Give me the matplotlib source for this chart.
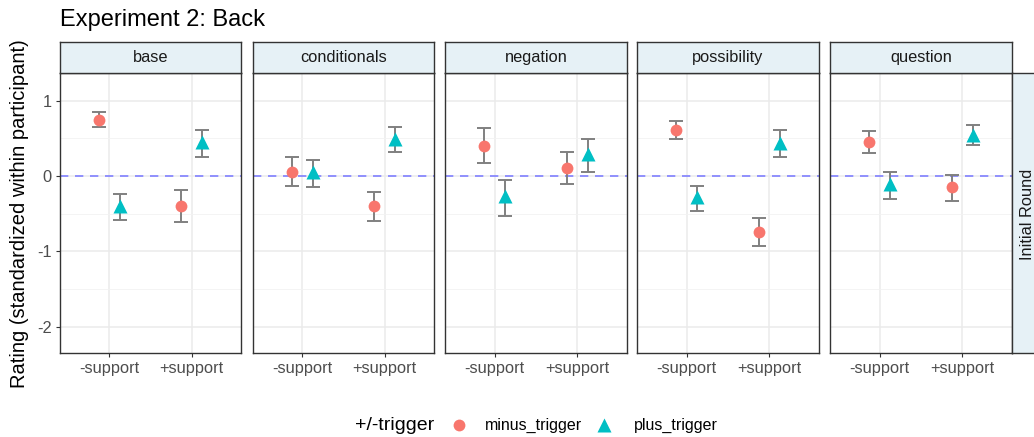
import numpy as np
import matplotlib
matplotlib.use('Agg')
import matplotlib.pyplot as plt

plt.rcParams['font.family'] = ['Liberation Sans', 'DejaVu Sans']

# ratings per facet: [ -support, +support ]
facets = ['base', 'conditionals', 'negation', 'possibility', 'question']
conditions = ['-support', '+support']

minus_mean = {
    'base': [0.75, -0.40],
    'conditionals': [0.05, -0.40],
    'negation': [0.40, 0.11],
    'possibility': [0.61, -0.74],
    'question': [0.45, -0.15],
}
minus_lo = {
    'base': [0.65, -0.61],
    'conditionals': [-0.13, -0.59],
    'negation': [0.17, -0.11],
    'possibility': [0.49, -0.93],
    'question': [0.31, -0.33],
}
minus_hi = {
    'base': [0.85, -0.19],
    'conditionals': [0.25, -0.21],
    'negation': [0.64, 0.32],
    'possibility': [0.73, -0.55],
    'question': [0.60, 0.01],
}

plus_mean = {
    'base': [-0.40, 0.45],
    'conditionals': [0.05, 0.49],
    'negation': [-0.27, 0.29],
    'possibility': [-0.28, 0.44],
    'question': [-0.11, 0.55],
}
plus_lo = {
    'base': [-0.58, 0.26],
    'conditionals': [-0.14, 0.32],
    'negation': [-0.53, 0.06],
    'possibility': [-0.47, 0.26],
    'question': [-0.30, 0.41],
}
plus_hi = {
    'base': [-0.24, 0.61],
    'conditionals': [0.22, 0.65],
    'negation': [-0.05, 0.49],
    'possibility': [-0.13, 0.61],
    'question': [0.06, 0.68],
}

W, H = 1034, 437
fig = plt.figure(figsize=(W / 100, H / 100), dpi=100)


def box(x0, y0, x1, y1):
    # pixel box (top-left origin) -> figure fraction rect
    return [x0 / W, 1 - y1 / H, (x1 - x0) / W, (y1 - y0) / H]


panel_x = [(60, 241), (253, 434), (445, 627), (637, 819), (830, 1012)]
strip_top, panel_top, panel_bottom = 42, 73, 353
border = '#333333'
strip_fill = '#e6f1f6'
dodge = 0.13
xs = np.array([1, 2])

for i, (f, (x0, x1)) in enumerate(zip(facets, panel_x)):
    ax = fig.add_axes(box(x0, panel_top, x1, panel_bottom))
    ax.set_xlim(0.4, 2.6)
    ax.set_ylim(-2.35, 1.37)
    ax.set_yticks([1, 0, -1, -2])
    ax.set_yticks([0.5, -0.5, -1.5], minor=True)
    ax.set_xticks(xs)
    ax.set_xticklabels(conditions)
    ax.grid(which='major', color='#ebebeb', lw=1.1)
    ax.grid(which='minor', axis='y', color='#f2f2f2', lw=0.6)
    ax.set_axisbelow(True)
    ax.tick_params(which='major', length=3, color='#333333', labelsize=11.8,
                   labelcolor='#4d4d4d', pad=3)
    ax.tick_params(which='minor', length=0)
    if i == 0:
        ax.set_yticklabels(['1', '0', '-1', '-2'])
    else:
        ax.tick_params(axis='y', labelleft=False, length=0)
    for s in ax.spines.values():
        s.set_color(border)
        s.set_linewidth(1.0)

    ax.axhline(0, color='#8080ff', ls=(0, (5, 4)), lw=1.2, zorder=1)

    m = np.array(minus_mean[f])
    ax.errorbar(xs - dodge, m,
                yerr=[m - np.array(minus_lo[f]), np.array(minus_hi[f]) - m],
                fmt='none', ecolor='#808080', elinewidth=1.4, capsize=4.8,
                capthick=1.4, zorder=2)
    ax.plot(xs - dodge, m, 'o', color='#F8766D', ms=8.5, mec='none', zorder=3)

    p = np.array(plus_mean[f])
    ax.errorbar(xs + dodge, p,
                yerr=[p - np.array(plus_lo[f]), np.array(plus_hi[f]) - p],
                fmt='none', ecolor='#808080', elinewidth=1.4, capsize=4.8,
                capthick=1.4, zorder=2)
    ax.plot(xs + dodge, p, '^', color='#00BFC4', ms=10, mec='none', zorder=3)

    st = fig.add_axes(box(x0, strip_top, x1, panel_top))
    st.set_facecolor(strip_fill)
    st.set_xticks([])
    st.set_yticks([])
    for s in st.spines.values():
        s.set_color(border)
        s.set_linewidth(1.0)
    st.text(0.5, 0.5, f, ha='center', va='center', fontsize=11.8,
            color='#1a1a1a', transform=st.transAxes)

# row strip on the right
rs = fig.add_axes(box(1012, panel_top, 1046, panel_bottom))
rs.set_facecolor(strip_fill)
rs.set_xticks([])
rs.set_yticks([])
for s in rs.spines.values():
    s.set_color(border)
    s.set_linewidth(1.0)
fig.text(1028 / W, 1 - 214 / H, 'Initial Round', rotation=90, ha='center',
         va='center', fontsize=11.8, color='#1a1a1a')

fig.text(60 / W, 1 - 20 / H, 'Experiment 2: Back', fontsize=17,
         ha='left', va='center', color='black')
fig.text(20 / W, 1 - 214 / H, 'Rating (standardized within participant)',
         rotation=90, fontsize=14.5, ha='center', va='center', color='black')

# legend
ly = 1 - 425 / H
fig.text(355 / W, ly, '+/-trigger', fontsize=14, ha='left', va='center')
fig.lines.append(plt.Line2D([459 / W], [ly], marker='o', color='#F8766D',
                            ms=8.5, mec='none', transform=fig.transFigure))
fig.text(485 / W, ly, 'minus_trigger', fontsize=11.5, ha='left', va='center')
fig.lines.append(plt.Line2D([604 / W], [ly], marker='^', color='#00BFC4',
                            ms=10, mec='none', transform=fig.transFigure))
fig.text(634 / W, ly, 'plus_trigger', fontsize=11.5, ha='left', va='center')

fig.savefig('out.png', dpi=100)
